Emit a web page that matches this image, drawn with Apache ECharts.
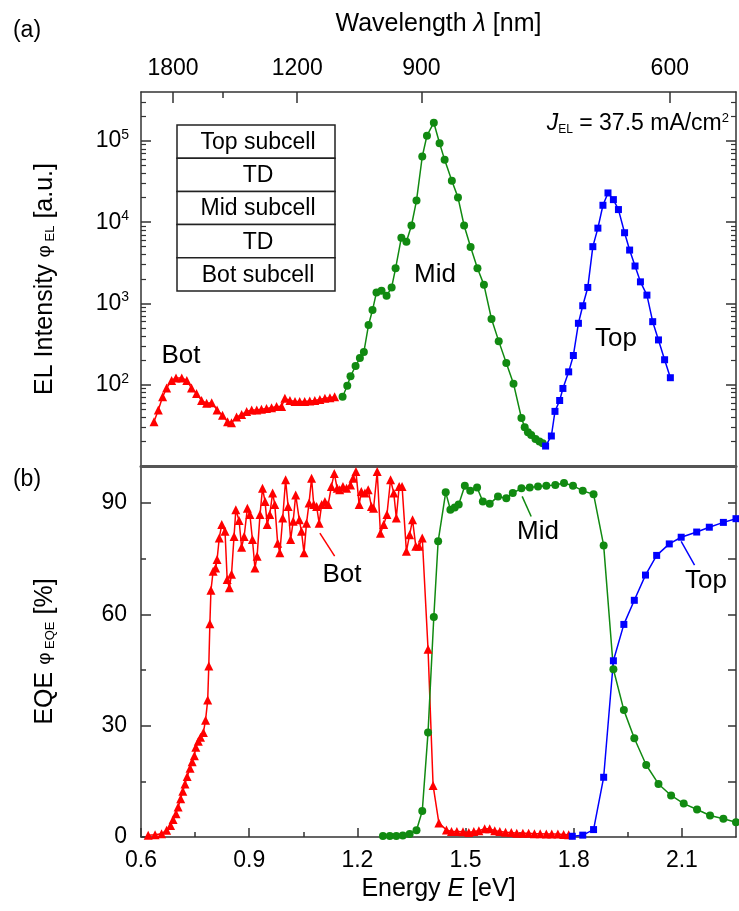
<!DOCTYPE html>
<html lang="en">
<head>
    <meta charset="UTF-8">
    <title>EL and EQE of triple-junction cell</title>
    <script src="https://cdn.jsdelivr.net/npm/echarts@6/dist/echarts.min.js"></script>
    <style>
        body { margin: 0; background: #fff; }
        #main { width: 739px; height: 911px; }
    </style>
</head>
<body>
<div id="main"></div>
<script type="text/javascript">
    // ---- data ----
    // (a) EL intensity, energy in eV
    var elBotE = [0.636,0.648,0.660,0.671,0.685,0.697,0.713,0.727,0.740,0.754,0.768,0.782,0.796,0.811,0.826,0.840,0.851,0.865,0.879,0.893,0.907,0.921,0.934,0.948,0.962,0.976,0.990,0.999,1.013,1.027,1.040,1.054,1.068,1.082,1.096,1.110,1.124,1.137];
    var elBotV = [35,49,71,91,113,121,121,113,91,78,64,59,60,49,42,35,34,40,43,47,49,49,50,51,52,54,54,68,64,62,62,62,63,64,66,68,69,71];

    var elMidE = [1.159,1.172,1.181,1.195,1.207,1.218,1.231,1.242,1.253,1.267,1.281,1.295,1.306,1.322,1.336,1.350,1.364,1.380,1.393,1.412,1.428,1.442,1.462,1.479,1.496,1.514,1.533,1.551,1.572,1.592,1.613,1.633,1.655,1.664,1.673,1.682,1.694,1.705,1.714];
    var elMidV = [71,97,127,170,213,252,544,830,1367,1430,1242,1574,2710,6440,5750,9110,18450,64300,116000,167500,93800,58500,32400,20200,9110,4940,2710,1694,644,344,185,103,39,30,26,24,21.5,20,19];

    var elTopE = [1.722,1.738,1.748,1.761,1.770,1.786,1.799,1.813,1.825,1.839,1.853,1.867,1.881,1.895,1.910,1.924,1.941,1.955,1.970,1.985,2.003,2.019,2.035,2.052,2.068];
    var elTopV = [17.6,23.4,47,64,90,144,229,570,937,1574,5000,8450,16150,22900,18960,14300,7420,4540,2890,1845,1267,597,356,203,122];

    // (b) EQE in %
    var eqeBotE = [0.620,0.639,0.657,0.671,0.682,0.689,0.697,0.703,0.710,0.716,0.722,0.728,0.736,0.742,0.748,0.752,0.759,0.765,0.773,0.779,0.785,0.788,0.791,0.794,0.800,0.807,0.811,0.817,0.824,0.833,0.839,0.845,0.851,0.858,0.863,0.872,0.879,0.886,0.895,0.902,0.909,0.916,0.922,0.930,0.937,0.944,0.950,0.957,0.965,0.971,0.979,0.985,0.993,1.001,1.008,1.015,1.022,1.029,1.039,1.045,1.052,1.059,1.066,1.073,1.079,1.087,1.094,1.101,1.110,1.119,1.128,1.136,1.144,1.151,1.160,1.170,1.181,1.188,1.196,1.205,1.211,1.221,1.230,1.239,1.245,1.255,1.264,1.273,1.282,1.292,1.301,1.308,1.316,1.324,1.336,1.345,1.353,1.362,1.371,1.380,1.396,1.410,1.426,1.447,1.461,1.476,1.493,1.509,1.523,1.537,1.553,1.567,1.581,1.595,1.611,1.627,1.642,1.659,1.675,1.691,1.707,1.724,1.739,1.756,1.772,1.786];
    var eqeBotV = [0.5,0.6,0.9,1.8,3.1,4.7,6.3,8.1,10.3,12.3,14.3,16.3,18.5,20.3,21.9,24.2,25.8,26.9,28.2,31.5,36.9,46.1,57.5,66.5,71.6,72.5,74.8,80.6,84.2,82.4,69.4,67.2,70.8,81.0,88.2,85.3,78.1,81.0,88.6,86.9,80.2,72.5,75.7,86.9,94.0,90.4,84.2,86.9,92.7,89.6,79.2,76.6,86.0,96.3,89.1,80.2,85.1,92.2,85.5,82.4,76.6,84.6,90.0,96.7,89.6,89.1,84.6,89.6,90.4,89.6,94.5,98.0,94.0,93.6,94.5,94.0,94.9,96.7,98.5,89.6,93.1,92.7,93.6,89.1,88.6,98.5,81.9,84.2,86.9,96.3,92.7,86.0,94.5,94.5,77.0,81.5,85.5,78.4,78.4,80.6,50.6,13.9,3.8,1.9,1.5,1.5,1.4,1.2,1.5,1.7,2.2,2.2,1.7,1.5,1.3,1.2,1.0,1.0,1.0,0.9,0.9,0.8,0.8,0.8,0.7,0.6];

    var eqeMidE = [1.271,1.290,1.308,1.326,1.345,1.364,1.380,1.396,1.412,1.424,1.445,1.458,1.470,1.481,1.498,1.513,1.532,1.548,1.567,1.590,1.613,1.631,1.655,1.678,1.701,1.724,1.749,1.773,1.798,1.825,1.855,1.883,1.910,1.939,1.968,2.001,2.035,2.070,2.105,2.142,2.178,2.215,2.250];
    var eqeMidV = [0.3,0.3,0.3,0.4,0.8,1.8,7.0,28.2,59.3,79.7,92.9,88.2,88.8,89.6,94.7,93.3,94.2,90.4,89.8,91.8,91.3,92.7,94.0,94.2,94.5,94.7,94.9,95.4,94.7,93.3,92.4,78.6,45.2,34.2,26.6,19.4,14.3,11.2,9.0,7.4,5.8,4.9,4.0];

    var eqeTopE = [1.796,1.825,1.855,1.883,1.910,1.939,1.968,1.999,2.030,2.065,2.098,2.141,2.176,2.215,2.250];
    var eqeTopV = [0.2,0.5,2.0,16.1,47.5,57.3,63.8,70.6,75.9,79.0,80.8,82.2,83.5,84.8,85.8];

    // axis ticks
    var energyTicks = [0.6, 0.9, 1.2, 1.5, 1.8, 2.1];
    var energyMinor = [0.75, 1.05, 1.35, 1.65, 1.95];
    var wavelengthTicks = [1800, 1200, 900, 600];
    var wavelengthMinor = [1500];
    var elDecades = [2, 3, 4, 5];
    var eqeTicks = [0, 30, 60, 90];
    var eqeMinor = [15, 45, 75];
    var layers = ['Top subcell', 'TD', 'Mid subcell', 'TD', 'Bot subcell'];

    // label pointer lines in (b), data coords
    var botPointer = [[1.096, 81.9], [1.137, 75.7]];
    var midPointer = [[1.657, 91.8], [1.682, 86.4]];
    var topPointer = [[2.098, 79.7], [2.135, 73.3]];

    var hc = 1239.84;
    var eMin = 0.6, eMax = 2.25;
    var elMin = 10, elMax = 400000;

    function pairs(xs, ys) {
        var out = [];
        for (var i = 0; i < xs.length; i++) out.push([xs[i], ys[i]]);
        return out;
    }
    var logMinor = [];
    for (var d = 1; d <= 5; d++) {
        for (var k = 2; k <= 9; k++) {
            var lv = d + Math.log10(k);
            if (lv < Math.log10(elMax)) logMinor.push(lv);
        }
    }

    var frame = {color: '#333', width: 1.5};
    var font = 'Liberation Sans';
    var INK = '#000';
    var RED = '#ff0000', GREEN = '#118a11', BLUE = '#0000ff';

    var myChart = echarts.init(document.getElementById('main'), null, {renderer: 'canvas'});

    function xAx(grid, extra) {
        var a = {
            type: 'value', gridIndex: grid, min: eMin, max: eMax,
            splitLine: {show: false},
            axisLine: {show: false},
            axisTick: {show: false},
            axisLabel: {show: false}
        };
        return Object.assign(a, extra);
    }
    function yAx(grid, min, max, extra) {
        var a = {
            type: 'value', gridIndex: grid, min: min, max: max,
            splitLine: {show: false},
            axisLine: {show: false},
            axisTick: {show: false},
            axisLabel: {show: false}
        };
        return Object.assign(a, extra);
    }
    var elLogMax = Math.log10(elMax);
    var nameRich = {phi: {fontSize: 19, color: INK, padding: [0, 0, 2, 0]},
                    sub: {fontSize: 13, color: INK, padding: [10, 0, 0, 0]}};

    option = {
        animation: false,
        textStyle: {fontFamily: font, color: INK},
        grid: [
            {left: 141, right: 3, top: 92, height: 374},
            {left: 141, right: 3, top: 466, height: 371}
        ],
        xAxis: [
            // 0: divider line under panel (a)
            xAx(0, {position: 'bottom', axisLine: {show: true, onZero: false, lineStyle: {color: '#555', width: 3}}}),
            // 1: wavelength axis on top
            xAx(0, {
                position: 'top',
                axisLine: {show: true, onZero: false, lineStyle: frame},
                axisTick: {show: true, inside: true, length: 11, lineStyle: {color: '#333', width: 1.5},
                    customValues: wavelengthTicks.map(function (nm) { return hc / nm; })},
                axisLabel: {show: true, fontSize: 23, margin: 12, color: INK,
                    customValues: wavelengthTicks.map(function (nm) { return hc / nm; }),
                    formatter: function (v) { return Math.round(hc / v); }},
                name: 'Wavelength {it|λ} [nm]',
                nameLocation: 'middle',
                nameGap: 55,
                nameTextStyle: {fontSize: 25, color: INK, rich: {it: {fontSize: 25, fontStyle: 'italic', color: INK}}}
            }),
            // 2: minor wavelength ticks
            xAx(0, {
                position: 'top',
                axisTick: {show: true, inside: true, length: 6, lineStyle: {color: '#333', width: 1.5},
                    customValues: wavelengthMinor.map(function (nm) { return hc / nm; })}
            }),
            // 3: energy axis
            xAx(1, {
                position: 'bottom',
                axisLine: {show: true, onZero: false, lineStyle: frame},
                axisTick: {show: true, inside: true, length: 9, lineStyle: {color: '#333', width: 1.5}, customValues: energyTicks},
                axisLabel: {show: true, fontSize: 23, margin: 12, color: INK, customValues: energyTicks,
                    formatter: function (v) { return v.toFixed(1); }},
                name: 'Energy {it|E} [eV]',
                nameLocation: 'middle',
                nameGap: 40,
                nameTextStyle: {fontSize: 25, color: INK, rich: {it: {fontSize: 25, fontStyle: 'italic', color: INK}}}
            }),
            // 4: minor energy ticks
            xAx(1, {
                position: 'bottom',
                axisTick: {show: true, inside: true, length: 5, lineStyle: {color: '#333', width: 1.5}, customValues: energyMinor}
            })
        ],
        yAxis: [
            // 0: log data axis for EL
            {type: 'log', logBase: 10, gridIndex: 0, min: elMin, max: elMax, position: 'left', show: false},
            // 1: EL decade labels / ticks (log10 space)
            yAx(0, 1, elLogMax, {
                position: 'left',
                axisLine: {show: true, onZero: false, lineStyle: frame},
                axisTick: {show: true, inside: true, length: 10, lineStyle: {color: '#333', width: 1.5}, customValues: elDecades},
                axisLabel: {show: true, fontSize: 23, margin: 12, color: INK, customValues: elDecades,
                    formatter: function (v) { return '10{sup|' + Math.round(v) + '}'; },
                    rich: {sup: {fontSize: 14, color: INK, padding: [0, 0, 12, 0]}}},
                name: 'EL Intensity {phi|φ}{sub| EL} [a.u.]',
                nameLocation: 'middle',
                nameGap: 83,
                nameTextStyle: {fontSize: 25, color: INK, rich: nameRich}
            }),
            // 2: EL minor ticks left
            yAx(0, 1, elLogMax, {
                position: 'left',
                axisTick: {show: true, inside: true, length: 5, lineStyle: {color: '#333', width: 1.2}, customValues: logMinor}
            }),
            // 3: EL right frame
            yAx(0, 1, elLogMax, {
                position: 'right',
                axisLine: {show: true, onZero: false, lineStyle: frame},
                axisTick: {show: true, inside: true, length: 10, lineStyle: {color: '#333', width: 1.5}, customValues: elDecades}
            }),
            // 4: EL minor ticks right
            yAx(0, 1, elLogMax, {
                position: 'right',
                axisTick: {show: true, inside: true, length: 5, lineStyle: {color: '#333', width: 1.2}, customValues: logMinor}
            }),
            // 5: EQE left
            yAx(1, 0, 100, {
                position: 'left',
                axisLine: {show: true, onZero: false, lineStyle: frame},
                axisTick: {show: true, inside: true, length: 10, lineStyle: {color: '#333', width: 1.5}, customValues: eqeTicks},
                axisLabel: {show: true, fontSize: 23, margin: 14, color: INK, customValues: eqeTicks},
                name: 'EQE {phi|φ}{sub| EQE} [%]',
                nameLocation: 'middle',
                nameGap: 83,
                nameTextStyle: {fontSize: 25, color: INK, rich: nameRich}
            }),
            // 6: EQE minor left
            yAx(1, 0, 100, {
                position: 'left',
                axisTick: {show: true, inside: true, length: 5, lineStyle: {color: '#333', width: 1.5}, customValues: eqeMinor}
            }),
            // 7: EQE right
            yAx(1, 0, 100, {
                position: 'right',
                axisLine: {show: true, onZero: false, lineStyle: frame},
                axisTick: {show: true, inside: true, length: 8, lineStyle: {color: '#333', width: 1.5},
                    customValues: eqeMinor.concat(eqeTicks.slice(1))}
            })
        ],
        series: [
            {name: 'EL Bot', type: 'line', xAxisIndex: 0, yAxisIndex: 0, data: pairs(elBotE, elBotV),
                symbol: 'triangle', symbolSize: 9, showAllSymbol: true,
                itemStyle: {color: RED}, lineStyle: {color: RED, width: 1.5}},
            {name: 'EL Mid', type: 'line', xAxisIndex: 0, yAxisIndex: 0, data: pairs(elMidE, elMidV),
                symbol: 'circle', symbolSize: 8, showAllSymbol: true,
                itemStyle: {color: GREEN}, lineStyle: {color: GREEN, width: 1.5}},
            {name: 'EL Top', type: 'line', xAxisIndex: 0, yAxisIndex: 0, data: pairs(elTopE, elTopV),
                symbol: 'rect', symbolSize: 7, showAllSymbol: true,
                itemStyle: {color: BLUE}, lineStyle: {color: BLUE, width: 1.5}},
            {name: 'EQE Bot', type: 'line', xAxisIndex: 3, yAxisIndex: 5, data: pairs(eqeBotE, eqeBotV),
                symbol: 'triangle', symbolSize: 9, showAllSymbol: true,
                itemStyle: {color: RED}, lineStyle: {color: RED, width: 1.5},
                markLine: {silent: true, symbol: 'none', label: {show: false},
                    lineStyle: {color: RED, width: 1.5, type: 'solid'},
                    data: [[{coord: botPointer[0]}, {coord: botPointer[1]}]]}},
            {name: 'EQE Mid', type: 'line', xAxisIndex: 3, yAxisIndex: 5, data: pairs(eqeMidE, eqeMidV),
                symbol: 'circle', symbolSize: 8, showAllSymbol: true,
                itemStyle: {color: GREEN}, lineStyle: {color: GREEN, width: 1.5},
                markLine: {silent: true, symbol: 'none', label: {show: false},
                    lineStyle: {color: GREEN, width: 1.5, type: 'solid'},
                    data: [[{coord: midPointer[0]}, {coord: midPointer[1]}]]}},
            {name: 'EQE Top', type: 'line', xAxisIndex: 3, yAxisIndex: 5, data: pairs(eqeTopE, eqeTopV),
                symbol: 'rect', symbolSize: 7, showAllSymbol: true,
                itemStyle: {color: BLUE}, lineStyle: {color: BLUE, width: 1.5},
                markLine: {silent: true, symbol: 'none', label: {show: false},
                    lineStyle: {color: BLUE, width: 1.5, type: 'solid'},
                    data: [[{coord: topPointer[0]}, {coord: topPointer[1]}]]}}
        ],
        graphic: []
    };

    // panel letters and curve labels
    function txt(x, y, s, size, extra) {
        return Object.assign({
            type: 'text', x: x, y: y, silent: true,
            style: {text: s, fontSize: size, fontFamily: font, fill: INK, align: 'center', verticalAlign: 'middle'}
        }, extra || {});
    }
    option.graphic.push(txt(27, 31, '(a)', 23));
    option.graphic.push(txt(27, 480, '(b)', 23));
    option.graphic.push(txt(181, 356, 'Bot', 26));
    option.graphic.push(txt(435, 275, 'Mid', 26));
    option.graphic.push(txt(616, 339, 'Top', 26));
    option.graphic.push(txt(342, 575, 'Bot', 26));
    option.graphic.push(txt(538, 532, 'Mid', 26));
    option.graphic.push(txt(706, 581, 'Top', 26));
    option.graphic.push({
        type: 'text', x: 729, y: 124, silent: true,
        style: {
            text: '{it|J}{sub|EL} = 37.5 mA/cm{sup|2}',
            fontSize: 23, fontFamily: font, fill: INK, align: 'right', verticalAlign: 'middle',
            rich: {
                it: {fontSize: 23, fontStyle: 'italic', fontFamily: font, fill: INK},
                sub: {fontSize: 12, fontFamily: font, fill: INK, padding: [12, 0, 0, 0]},
                sup: {fontSize: 13, fontFamily: font, fill: INK, padding: [0, 0, 12, 0]}
            }
        }
    });

    // layer stack box
    var boxX = 177, boxY = 125, boxW = 158, rowH = 33.2;
    for (var i = 0; i < layers.length; i++) {
        option.graphic.push({
            type: 'rect', silent: true,
            shape: {x: boxX, y: boxY + i * rowH, width: boxW, height: rowH},
            style: {fill: '#fff', stroke: '#222', lineWidth: 1.5}
        });
        option.graphic.push(txt(boxX + boxW / 2 + 2, boxY + i * rowH + rowH / 2 + 1, layers[i], 23));
    }

    myChart.setOption(option);
</script>
</body>
</html>
